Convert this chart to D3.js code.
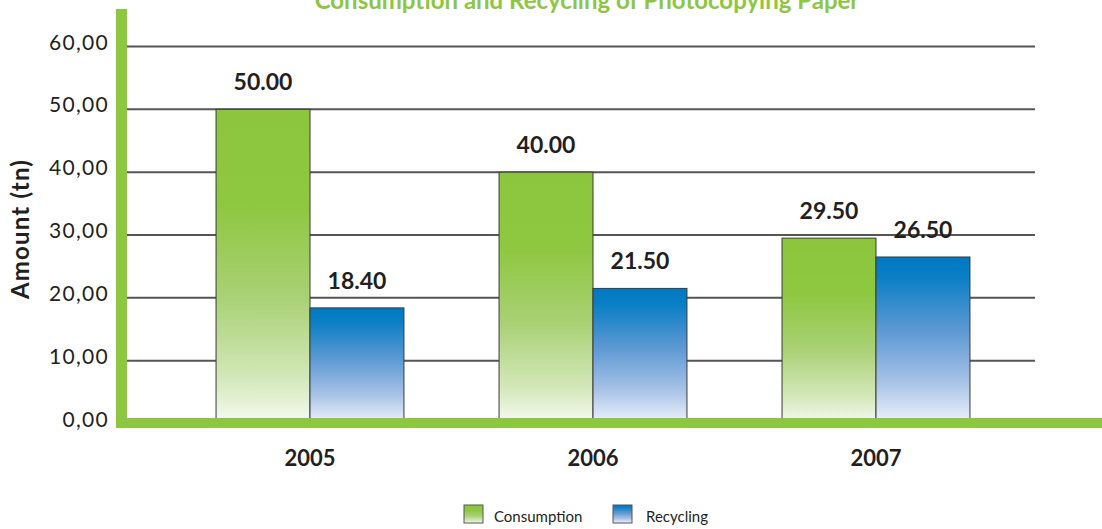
<!DOCTYPE html>
<html>
<head>
<meta charset="utf-8">
<script src="https://cdn.jsdelivr.net/npm/d3@7"></script>
<style>
  html, body { margin: 0; padding: 0; background: #fff; }
  svg { display: block; font-family: Lato, "Open Sans", sans-serif; }
</style>
</head>
<body>
<svg id="chart" width="1102" height="529"></svg>
<script>
// Photocopying paper, tonnes per year
const years = ["2005", "2006", "2007"];
const consumption = [50.00, 40.00, 29.50];
const recycling = [18.40, 21.50, 26.50];
const seriesNames = ["Consumption", "Recycling"];
const yTicks = [0, 10, 20, 30, 40, 50, 60];

const svg = d3.select("#chart");
const green = "#8dc63f";
const ink = "#231f20";

// gradients for the bar fills
const defs = svg.append("defs");
const gGreen = defs.append("linearGradient").attr("id", "gradGreen")
  .attr("x1", 0).attr("y1", 0).attr("x2", 0).attr("y2", 1);
[[0, "#8cc63f"], [0.3, "#8ec740"], [0.6, "#a9d175"], [0.85, "#d2e7b8"], [1, "#f6faf1"]]
  .forEach(([o, c]) => gGreen.append("stop").attr("offset", o).attr("stop-color", c));
const gBlue = defs.append("linearGradient").attr("id", "gradBlue")
  .attr("x1", 0).attr("y1", 0).attr("x2", 0).attr("y2", 1);
[[0, "#0078c0"], [0.12, "#0a7fc5"], [0.45, "#5f9ad4"], [0.75, "#a7c2e6"], [1, "#eef3fb"]]
  .forEach(([o, c]) => gBlue.append("stop").attr("offset", o).attr("stop-color", c));
const fills = ["url(#gradGreen)", "url(#gradBlue)"];

const y = d3.scaleLinear().domain([0, 60]).range([423.5, 46.5]);
const x0 = d3.scaleBand().domain(years).range([168.5, 1017.5])
  .paddingInner(0.336).paddingOuter(0.168);
const x1 = d3.scaleBand().domain(seriesNames).range([0, x0.bandwidth()]);

// title (runs off the top edge)
svg.append("text")
  .attr("x", 587).attr("y", 9)
  .attr("text-anchor", "middle")
  .attr("font-size", 24).attr("font-weight", 700)
  .attr("fill", green)
  .text("Consumption and Recycling of Photocopying Paper");

// gridlines
svg.append("g").selectAll("line")
  .data(yTicks.filter(t => t > 0))
  .join("line")
  .attr("x1", 127).attr("x2", 1035)
  .attr("y1", d => y(d)).attr("y2", d => y(d))
  .attr("stroke", "#555").attr("stroke-width", 2);

// y tick labels
svg.append("g").selectAll("text")
  .data(yTicks)
  .join("text")
  .attr("x", 109).attr("y", d => y(d) + 3)
  .attr("text-anchor", "end")
  .attr("font-size", 21).attr("letter-spacing", 1.3).attr("fill", ink)
  .text(d => d3.format(".2f")(d).replace(".", ","));

// y axis title
svg.append("text")
  .attr("transform", "translate(29,229) rotate(-90)")
  .attr("text-anchor", "middle")
  .attr("font-size", 24).attr("font-weight", 700).attr("letter-spacing", 1.2)
  .attr("fill", ink)
  .text("Amount (tn)");

// bars
const rows = years.map((yr, i) => ({ year: yr, values: [consumption[i], recycling[i]] }));
const groups = svg.append("g").selectAll("g")
  .data(rows)
  .join("g")
  .attr("transform", d => `translate(${x0(d.year)},0)`);

groups.selectAll("rect")
  .data(d => d.values.map((v, k) => ({ v, k })))
  .join("rect")
  .attr("x", d => x1(seriesNames[d.k]))
  .attr("y", d => y(d.v))
  .attr("width", x1.bandwidth())
  .attr("height", d => y(0) - y(d.v))
  .attr("fill", d => fills[d.k])
  .attr("stroke", "#3a3a3a").attr("stroke-width", 1);

groups.selectAll("text")
  .data(d => d.values.map((v, k) => ({ v, k })))
  .join("text")
  .attr("x", d => x1(seriesNames[d.k]) + x1.bandwidth() / 2)
  .attr("y", d => y(d.v) - 19)
  .attr("text-anchor", "middle")
  .attr("font-size", 23).attr("font-weight", 700).attr("fill", ink)
  .text(d => d3.format(".2f")(d.v));

// axis frame
svg.append("rect").attr("x", 116).attr("y", 9).attr("width", 11).attr("height", 419).attr("fill", green);
svg.append("rect").attr("x", 116).attr("y", 418).attr("width", 986).attr("height", 10).attr("fill", green);

// year labels
svg.append("g").selectAll("text")
  .data(years)
  .join("text")
  .attr("x", d => x0(d) + x0.bandwidth() / 2)
  .attr("y", 466)
  .attr("text-anchor", "middle")
  .attr("font-size", 22).attr("font-weight", 700).attr("fill", ink)
  .text(d => d);

// legend
const legendX = [464, 613];
const legendTextX = [494, 646];
const legend = svg.append("g");
seriesNames.forEach((name, k) => {
  legend.append("rect")
    .attr("x", legendX[k]).attr("y", 505)
    .attr("width", 19).attr("height", 18)
    .attr("fill", fills[k]).attr("stroke", "#555").attr("stroke-width", 1);
  legend.append("text")
    .attr("x", legendTextX[k]).attr("y", 522)
    .attr("font-size", 15).attr("fill", ink)
    .text(name);
});
</script>
</body>
</html>
